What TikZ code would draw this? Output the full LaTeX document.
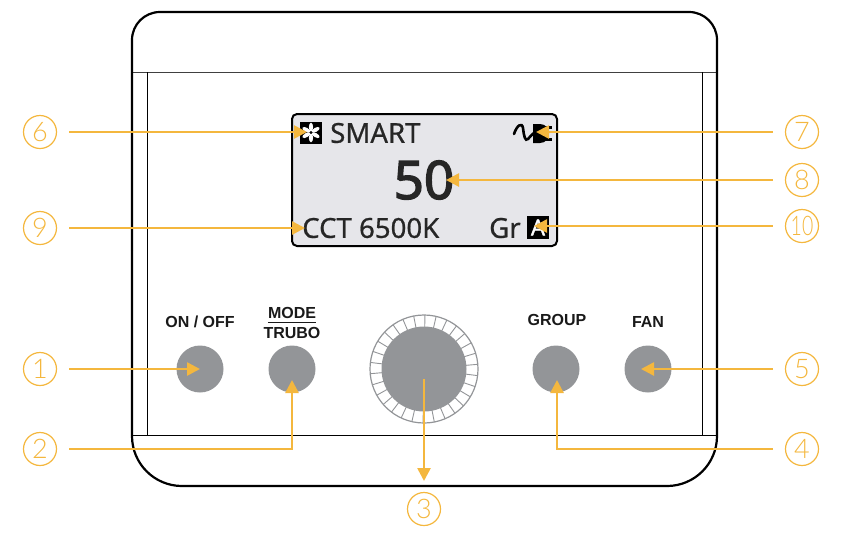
\documentclass[tikz,border=0pt]{standalone}
\usepackage{fontspec}
\setmainfont{Noto Sans}
\newfontfamily\labelfont{Liberation Sans}
\newfontfamily\numfont{Lato}[UprightFont=* Light]
\usetikzlibrary{arrows.meta}
\definecolor{callout}{HTML}{F4B73E}
\definecolor{knob}{HTML}{939598}
\definecolor{lcd}{HTML}{E6E6EA}
\tikzset{
  num/.style={shape=circle,draw=callout,line width=1.2pt,text=callout,minimum size=33pt,inner sep=0pt,font=\numfont\fontsize{27}{27}\selectfont},
  btn/.style={shape=circle,fill=knob,minimum size=47pt,inner sep=0pt},
  btntext/.style={font=\labelfont\bfseries\fontsize{16}{16}\selectfont,text=black!90,inner sep=0pt},
  lcdtext/.style={text=black!85,inner sep=0pt,font=\fontsize{27.6}{28}\selectfont\addfontfeature{FakeBold=0.7}},
  lead/.style={draw=callout,line width=2.6pt,-{Triangle[length=13pt,width=13pt]},shorten <=12pt},
}
\begin{document}
\begin{tikzpicture}[x=1pt,y=-1pt]
  \useasboundingbox (0,0) rectangle (842,542);
  % housing
  \draw[line width=0.9pt,draw=black!75] (132,72) -- (717,72);
  \draw[line width=0.9pt] (132,435) -- (717,435);
  \draw[line width=0.9pt] (147,72) -- (147,435);
  \draw[line width=0.9pt] (702,72) -- (702,435);
  \draw[line width=2.2pt,rounded corners=28pt] (132,250) -- (132,12) -- (717,12) -- (717,250);
  \draw[line width=2.2pt,rounded corners=50pt] (132,250) -- (132,486) -- (717,486) -- (717,250);

  % display
  \node[draw=black,fill=lcd,line width=2pt,rounded corners=5pt,minimum width=265pt,minimum height=132pt,inner sep=0pt] (lcdbox) at (424.5,180) {};
  \node[fill=black,minimum size=22pt,inner sep=0pt] (fan) at (311,132.5) {};
  \foreach \a in {30,90,...,330}
    \fill[white,shift={(fan.center)},rotate=\a] (5.4pt,0) ellipse [x radius=4.4pt,y radius=2.1pt];
  \node[lcdtext,anchor=west] (smart) at (330,133) {SMART};
  \node[lcdtext,font=\fontsize{53}{53}\selectfont\addfontfeature{FakeBold=2.6}] (value) at (424,180) {50};
  \node[lcdtext,anchor=west] (cct) at (302,228) {CCT 6500K};
  \node[lcdtext,anchor=west] (gr) at (489,228) {Gr};
  \node[fill=black,text=white,minimum width=22pt,minimum height=23pt,inner sep=0pt,font=\fontsize{22}{22}\selectfont\addfontfeature{FakeBold=1.5}] (auto) at (538,227.5) {A};
  % plug
  \draw[line width=2.6pt,line cap=round] (514,134) .. controls (517,125) and (522,122) .. (523,128) .. controls (524,136) and (525,142) .. (528,139) .. controls (530,137) and (532,134) .. (535,132);
  \fill[black] (533,124) -- (540,124) .. controls (546,124) and (549,129) .. (549,133.5) .. controls (549,138) and (546,143) .. (540,143) -- (533,143) -- cycle;
  \fill[black] (545,125.5) rectangle (552,128.5);
  \fill[black] (545,138) rectangle (552,141);

  % controls
  \node[btn] (onoff) at (200,369) {};
  \node[btn] (mode) at (292,369) {};
  \node[btn] (group) at (556,369) {};
  \node[btn] (fanbtn) at (648,369) {};
  \foreach \a in {0,12,...,350}
    \draw[draw=knob,line width=0.9pt] (424,369) ++(\a+5:42pt) -- ++(\a+5:12pt);
  \node[shape=circle,draw=knob,line width=1.2pt,minimum size=108pt,inner sep=0pt] (ring) at (424,369) {};
  \node[btn,minimum size=85pt] (dial) at (424,369) {};

  \node[btntext] (onofftxt) at (200,322) {ON / OFF};
  \node[btntext] (modetxt) at (292,313) {MODE};
  \node[btntext] (trubotxt) at (292,332.5) {TRUBO};
  \node[btntext] (grouptxt) at (557,320) {GROUP};
  \node[btntext] (fantxt) at (648,322) {FAN};
  \draw[line width=1.8pt,draw=black!90] (modetxt.west |- 0,322.5) -- (modetxt.east |- 0,322.5);

  % callout numbers
  \node[num] (n1) at (40,369) {1};
  \node[num] (n2) at (40,449) {2};
  \node[num] (n3) at (424,509) {3};
  \node[num] (n4) at (802,449) {4};
  \node[num] (n5) at (802,369) {5};
  \node[num] (n6) at (40,132) {6};
  \node[num] (n7) at (802,132) {7};
  \node[num] (n8) at (802,180) {8};
  \node[num] (n9) at (40,228) {9};
  \node[num] (n10) at (802,226) {\scalebox{0.72}[1]{10}};

  \coordinate (t2) at (292,380);
  \coordinate (b2) at (292,449);
  \coordinate (t4) at (557,380);
  \coordinate (b4) at (557,449);
  \coordinate (t3) at (424,379);
  \coordinate (e3) at (424,481);
  \coordinate (t5) at (641,369);
  \coordinate (t6) at (307,132);
  \coordinate (t7) at (536,132);
  \coordinate (t8) at (446,180);
  \coordinate (t9) at (305,228);
  \coordinate (t10) at (534,226);

  \draw[lead] (n1) to (onoff.center);
  \draw[lead] (n2) -- (b2) -- (t2);
  \draw[lead,shorten <=0pt] (t3) -- (e3);
  \draw[lead] (n4) -- (b4) -- (t4);
  \draw[lead] (n5) to (t5);
  \draw[lead] (n6) to (t6);
  \draw[lead] (n7) to (t7);
  \draw[lead] (n8) to (t8);
  \draw[lead] (n9) to (t9);
  \draw[lead] (n10) to (t10);
\end{tikzpicture}
\end{document}
